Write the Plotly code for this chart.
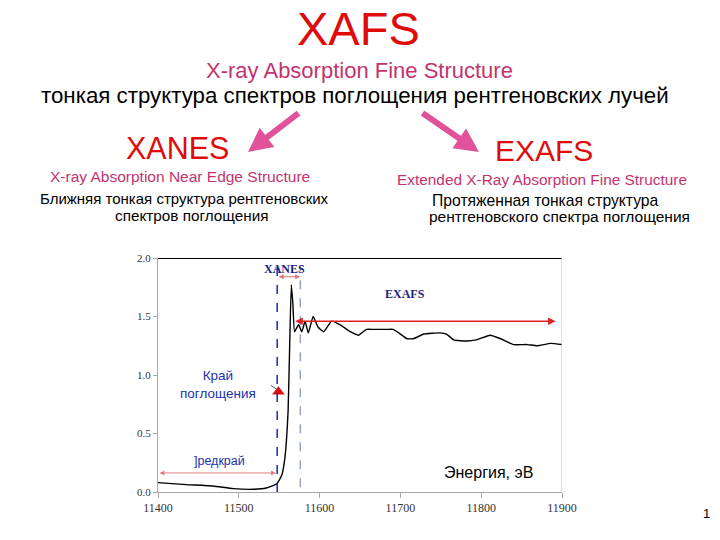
import plotly.graph_objects as go

# ---- data ----
energy = [11400, 11435, 11468, 11493, 11518, 11534, 11547, 11553, 11557, 11561, 11563, 11565,
          11567, 11569, 11574, 11578, 11582, 11586, 11592, 11598, 11605, 11615, 11625, 11638,
          11648, 11658, 11667, 11683, 11691, 11698, 11708, 11716, 11729, 11749, 11757, 11766,
          11782, 11794, 11811, 11824, 11840, 11857, 11869, 11886, 11900]
absorb = [0.08, 0.063, 0.051, 0.029, 0.023, 0.034, 0.071, 0.14, 0.29, 0.69, 1.26, 1.77,
          1.6, 1.37, 1.43, 1.37, 1.46, 1.36, 1.5, 1.41, 1.37, 1.46, 1.43, 1.37,
          1.34, 1.39, 1.39, 1.39, 1.39, 1.36, 1.31, 1.31, 1.35, 1.36, 1.35, 1.30,
          1.29, 1.30, 1.34, 1.31, 1.26, 1.26, 1.25, 1.27, 1.26]
x_ticks = [11400, 11500, 11600, 11700, 11800, 11900]
x_tick_labels = ["11400", "11500", "11600", "11700", "11800", "11900"]
y_ticks = [0.0, 0.5, 1.0, 1.5, 2.0]
y_tick_labels = ["0.0", "0.5", "1.0", "1.5", "2.0"]
xanes_bounds = [11547.5, 11576]
exafs_span = [11568, 11892]
preedge_span = [11400, 11546]
edge_point = [11549, 0.857]

W, H = 720, 540
def px(x): return x / W
def py(y): return 1 - y / H

fig = go.Figure()
fig.add_trace(go.Scatter(x=energy, y=absorb, mode="lines",
                         line=dict(color="black", width=1.4, shape="spline", smoothing=0.4),
                         hoverinfo="skip", showlegend=False))
fig.add_trace(go.Scatter(x=[edge_point[0]], y=[edge_point[1]], mode="markers",
                         marker=dict(symbol="triangle-up", color="#e01010", size=11),
                         showlegend=False, hoverinfo="skip"))

serif = "Liberation Serif, Times New Roman, serif"
sans = "Liberation Sans, Arial, sans-serif"

fig.update_layout(
    width=W, height=H, margin=dict(l=0, r=0, t=0, b=0),
    paper_bgcolor="white", plot_bgcolor="white", showlegend=False,
    xaxis=dict(domain=[px(158), px(562)], range=[11400, 11900], tickvals=x_ticks,
               ticktext=x_tick_labels, automargin=False,
               showgrid=False, zeroline=False, showline=True, linecolor="#a8a8a8", linewidth=1,
               ticks="outside", ticklen=5, tickcolor="#a8a8a8",
               tickfont=dict(family=serif, size=12, color="#333"), fixedrange=True),
    yaxis=dict(domain=[py(492), py(258)], range=[0, 2.0], tickvals=y_ticks, ticktext=y_tick_labels,
               automargin=False,
               showgrid=False, zeroline=False, showline=True, linecolor="#a8a8a8", linewidth=1,
               ticks="outside", ticklen=4, tickcolor="#a8a8a8",
               tickfont=dict(family=serif, size=11, color="#333"), fixedrange=True),
)

shapes = [
    dict(type="line", xref="x", yref="y", x0=11400, x1=11900, y0=2.0, y1=2.0,
         line=dict(color="black", width=2)),
    dict(type="line", xref="x", yref="y", x0=11900, x1=11900, y0=0, y1=2.0,
         line=dict(color="#c8c8c8", width=1)),
    dict(type="line", xref="x", yref="y", x0=xanes_bounds[0], x1=xanes_bounds[0], y0=0, y1=1.93,
         line=dict(color="#1a2ab0", width=1.5, dash="dash")),
    dict(type="line", xref="x", yref="y", x0=xanes_bounds[1], x1=xanes_bounds[1], y0=0.04, y1=1.93,
         line=dict(color="#6a78b8", width=1, dash="dash")),
]
fig.update_layout(shapes=shapes)

ann = []
def dbl_arrow(x0, x1, y, color, width):
    ann.append(dict(x=x1, y=y, ax=x0, ay=y, xref="x", yref="y", axref="x", ayref="y",
                    showarrow=True, arrowhead=2, arrowside="end+start", arrowsize=1,
                    arrowwidth=width, arrowcolor=color, text=""))
dbl_arrow(xanes_bounds[0], xanes_bounds[1], 1.84, "#e87070", 1)
dbl_arrow(exafs_span[0], exafs_span[1], 1.46, "#e02020", 1.5)
dbl_arrow(preedge_span[0], preedge_span[1], 0.163, "#e08080", 1)
ann.append(dict(x=edge_point[0] - 2, y=edge_point[1] + 0.02, ax=11538, ay=0.92,
                xref="x", yref="y", axref="x", ayref="y", showarrow=True, arrowhead=0,
                arrowwidth=1, arrowcolor="#555", text=""))

def t_data(x, y, text, size, color, family=sans, bold=False):
    ann.append(dict(x=x, y=y, xref="x", yref="y", text=f"<b>{text}</b>" if bold else text,
                    showarrow=False, font=dict(family=family, size=size, color=color)))

t_data(11556, 1.91, "XANES", 12, "#1c2280", serif, True)
t_data(11706, 1.69, "EXAFS", 12, "#1c2280", serif, True)
t_data(11474, 0.915, "Край<br>поглощения", 13.5, "#2030b0")
t_data(11476, 0.265, "]редкрай", 12.5, "#2030b0")
t_data(11809, 0.17, "Энергия, эВ", 16, "black")

def t_px(x, y, text, size, color, family=sans):
    ann.append(dict(x=px(x), y=py(y), xref="paper", yref="paper", text=text, showarrow=False,
                    xanchor="center", yanchor="middle", font=dict(family=family, size=size, color=color)))

red = "#e00b0b"
pink = "#c5336e"
t_px(358, 29, "XAFS", 47, red)
t_px(359, 70, "X-ray Absorption Fine Structure", 22, pink)
t_px(355, 95, "тонкая структура спектров поглощения рентгеновских лучей", 22.3, "black")
t_px(177, 148, "XANES", 30.5, red)
t_px(544, 150, "EXAFS", 30, red)
t_px(180, 177, "X-ray Absorption Near Edge Structure", 15.5, pink)
t_px(542, 179, "Extended X-Ray Absorption Fine Structure", 15.4, pink)
t_px(184, 198, "Ближняя тонкая структура рентгеновских", 15, "black")
t_px(192, 215, "спектров поглощения", 15.3, "black")
t_px(545, 200, "Протяженная тонкая структура", 15.7, "black")
t_px(559, 216, "рентгеновского спектра поглощения", 15.5, "black")
t_px(706, 513, "1", 13, "black")

# big pink arrows (pixel offsets from head to tail)
for (x0, y0, x1, y1) in [(300, 112, 248, 152), (421, 112, 479, 152)]:
    ann.append(dict(x=px(x1), y=py(y1), ax=x0 - x1, ay=y0 - y1, xref="paper", yref="paper",
                    axref="pixel", ayref="pixel", showarrow=True, arrowhead=2, arrowsize=0.8,
                    arrowwidth=6, arrowcolor="#e0529a", text=""))

fig.update_layout(annotations=ann)
fig.write_html("out.html", config={"displayModeBar": False},
               post_script="document.body.style.margin='0';document.body.style.overflow='hidden';")
